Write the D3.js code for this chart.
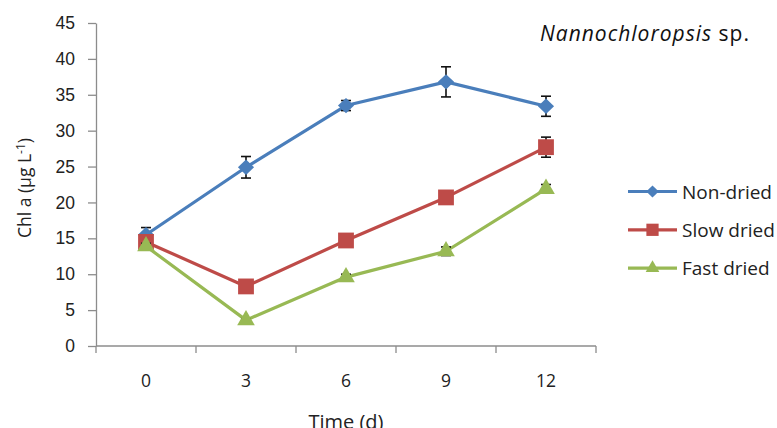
<!DOCTYPE html>
<html>
<head>
<meta charset="utf-8">
<script src="https://cdn.jsdelivr.net/npm/d3@7"></script>
<style>
  body { margin: 0; background: #fff; }
  svg { font-family: "Open Sans", "DejaVu Sans", sans-serif; }
  .axis path, .axis line { stroke: #8c8c8c; stroke-width: 1.3; }
  .axis text { fill: #222; font-size: 17.5px; }
</style>
</head>
<body>
<svg id="chart" width="777" height="428"></svg>
<script>
// values
const days = ["0", "3", "6", "9", "12"];
const nonDried = [15.5, 24.9, 33.5, 36.8, 33.4];
const nonDriedErr = [1.0, 1.5, 0.7, 2.1, 1.4];
const slowDried = [14.5, 8.3, 14.7, 20.7, 27.7];
const slowDriedErr = [0.5, 0.3, 0.3, 0.4, 1.4];
const fastDried = [13.9, 3.6, 9.6, 13.2, 21.9];
const fastDriedErr = [0.4, 0.2, 0.4, 0.6, 0.6];
const yTicks = [0, 5, 10, 15, 20, 25, 30, 35, 40, 45];

// squat diamond like the excel marker (d3's one is too tall)
const squatDiamond = {
  draw(ctx, size) {
    const r = Math.sqrt(size / 2);
    ctx.moveTo(0, -r * 0.95);
    ctx.lineTo(r, 0);
    ctx.lineTo(0, r * 0.95);
    ctx.lineTo(-r, 0);
    ctx.closePath();
  }
};

const series = [
  { name: "Non-dried", values: nonDried, err: nonDriedErr, color: "#4a7ebb", shape: squatDiamond, size: 130 },
  { name: "Slow dried", values: slowDried, err: slowDriedErr, color: "#be4b48", shape: d3.symbolSquare, size: 250 },
  { name: "Fast dried", values: fastDried, err: fastDriedErr, color: "#98b954", shape: d3.symbolTriangle, size: 135 }
];

const plotL = 96, plotR = 596, plotT = 23, plotB = 346;
const svg = d3.select("#chart");

const x = d3.scaleBand().domain(days).range([plotL, plotR]);
const y = d3.scaleLinear().domain([0, 45]).range([plotB, plotT]);

// y axis
svg.append("g")
  .attr("class", "axis")
  .attr("transform", `translate(${plotL},0)`)
  .call(d3.axisLeft(y).tickValues(yTicks).tickSize(8).tickPadding(13).tickSizeOuter(0));

// x axis, ticks sit between categories
const xAx = svg.append("g")
  .attr("class", "axis")
  .attr("transform", `translate(0,${plotB})`);
xAx.append("line").attr("x1", plotL).attr("x2", plotR);
xAx.selectAll(".tk")
  .data(d3.range(days.length + 1))
  .enter().append("line")
  .attr("x1", i => plotL + i * x.step())
  .attr("x2", i => plotL + i * x.step())
  .attr("y1", 0).attr("y2", 7);
xAx.selectAll("text")
  .data(days)
  .enter().append("text")
  .attr("x", d => x(d) + x.bandwidth() / 2)
  .attr("y", 41)
  .attr("text-anchor", "middle")
  .text(d => d);

const cx = (d, i) => x(days[i]) + x.bandwidth() / 2;

const line = d3.line()
  .x((d, i) => cx(d, i))
  .y(d => y(d));

series.forEach(s => {
  const g = svg.append("g");
  g.append("path")
    .datum(s.values)
    .attr("fill", "none")
    .attr("stroke", s.color)
    .attr("stroke-width", 3.2)
    .attr("stroke-linejoin", "round")
    .attr("d", line);

  // error bars
  const eb = g.selectAll(".err")
    .data(s.values)
    .enter().append("g")
    .attr("stroke", "#111")
    .attr("stroke-width", 1.6);
  eb.append("line")
    .attr("x1", cx).attr("x2", cx)
    .attr("y1", (d, i) => y(d + s.err[i]))
    .attr("y2", (d, i) => y(d - s.err[i]));
  [1, -1].forEach(sign => {
    eb.append("line")
      .attr("x1", (d, i) => cx(d, i) - 5)
      .attr("x2", (d, i) => cx(d, i) + 5)
      .attr("y1", (d, i) => y(d + sign * s.err[i]))
      .attr("y2", (d, i) => y(d + sign * s.err[i]));
  });

  g.selectAll(".mk")
    .data(s.values)
    .enter().append("path")
    .attr("d", d3.symbol().type(s.shape).size(s.size))
    .attr("transform", (d, i) => `translate(${cx(d, i)},${y(d)})`)
    .attr("fill", s.color);
});

// legend
const leg = svg.append("g").attr("transform", "translate(628,191.5)");
series.forEach((s, i) => {
  const row = leg.append("g").attr("transform", `translate(0,${i * 38.3})`);
  row.append("line")
    .attr("x1", 0).attr("x2", 49)
    .attr("stroke", s.color).attr("stroke-width", 3.2);
  row.append("path")
    .attr("d", d3.symbol().type(s.shape).size(s.size * 0.6))
    .attr("transform", "translate(24.5,0)")
    .attr("fill", s.color);
  row.append("text")
    .attr("x", 54).attr("y", 7)
    .attr("font-size", 19)
    .attr("fill", "#222")
    .text(s.name);
});

// title
const title = svg.append("text")
  .attr("x", 540).attr("y", 41)
  .attr("font-size", 21)
  .attr("letter-spacing", 1)
  .attr("fill", "#111");
title.append("tspan").attr("font-style", "italic").text("Nannochloropsis");
title.append("tspan").text(" sp.");

// axis titles
svg.append("text")
  .attr("x", 346).attr("y", 429)
  .attr("text-anchor", "middle")
  .attr("font-size", 20)
  .attr("fill", "#222")
  .text("Time (d)");

const yt = svg.append("text")
  .attr("transform", `translate(31,188) rotate(-90)`)
  .attr("text-anchor", "middle")
  .attr("font-size", 17.5)
  .attr("fill", "#222");
yt.append("tspan").text("Chl a (µg L");
yt.append("tspan").attr("dy", -6).attr("font-size", 12).text("-1");
yt.append("tspan").attr("dy", 6).text(")");
</script>
</body>
</html>
